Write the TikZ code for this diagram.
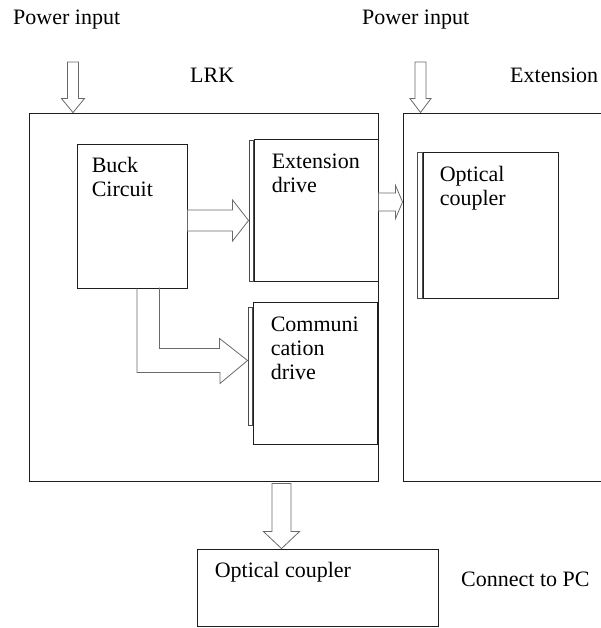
\documentclass[tikz,border=0pt]{standalone}
\usepackage{fontspec}
\setmainfont{Liberation Serif}
\usepackage{xcolor}
\definecolor{boxline}{HTML}{1E1E1E}
\definecolor{arrline}{HTML}{6A6A6A}
\definecolor{backgray}{HTML}{4A4A4A}
\usetikzlibrary{positioning, calc}
\tikzset{
  blk/.style ={rectangle, draw=boxline, line width=0.9pt, fill=white, inner sep=0pt},
  blktxt/.style={align=left, inner sep=0pt, text=black, font=\fontsize{22}{24}\selectfont},
  lbl/.style ={anchor=base west, inner sep=0pt, text=black, font=\fontsize{22}{24}\selectfont},
  behind/.style={draw=backgray, line width=0.7pt},
  arrow shaft/.store in=\arrshaft, arrow head/.store in=\arrhead, arrow len/.store in=\arrlen,
  arrow shaft=5pt, arrow head=10pt, arrow len=14pt,
  hollow/.style={draw=arrline, line width=0.8pt, fill=white, line join=miter,
    to path={let \p1=($(\tikztotarget)!\arrlen!(\tikztostart)$) in
      ($(\tikztostart)!\arrshaft!90:(\tikztotarget)$) -- ($(\p1)!\arrshaft!90:(\tikztotarget)$)
      -- ($(\p1)!\arrhead!90:(\tikztotarget)$) -- (\tikztotarget)
      -- ($(\p1)!\arrhead!-90:(\tikztotarget)$) -- ($(\p1)!\arrshaft!-90:(\tikztotarget)$)
      -- ($(\tikztostart)!\arrshaft!-90:(\tikztotarget)$) -- cycle}},
  hollowbend/.style={draw=arrline, line width=0.8pt, line join=miter},
}

\begin{document}
\begin{tikzpicture}[x=1pt, y=-1pt]
  \useasboundingbox (0,0) rectangle (601,628);
  \clip (0,0) rectangle (601,628);
  % outer blocks
  \node[blk, minimum width=349pt, minimum height=368pt] (lrk) at (203.5,297) {};
  \node[blk, minimum width=217pt, minimum height=368pt] (ext) at (511.5,297) {};
  \node[lbl] (lrklbl) at (190,83) {LRK};
  \node[lbl] (extlbl) at (510,83) {Extension};
  \node[lbl] (pinA) at (13,25) {Power input};
  \node[lbl] (pinB) at (362,25) {Power input};
  % inner blocks
  \node[blk, minimum width=110pt, minimum height=144pt] (buck) at (132,216) {};
  \node[blk, minimum width=124pt, minimum height=142pt] (extdrv) at (316,210) {};
  \node[blk, minimum width=124pt, minimum height=142pt] (commdrv) at (315,373) {};
  \node[blk, minimum width=135pt, minimum height=146pt] (optext) at (490.5,225) {};
  \node[blk, minimum width=241pt, minimum height=77pt] (optpc) at (317.5,587.5) {};
  \draw[behind] ([xshift=-4pt,yshift=-2pt]extdrv.north west) rectangle (extdrv.south west);
  \draw[behind] ([xshift=-4pt,yshift=-6pt]commdrv.north west) rectangle ([yshift=19pt]commdrv.south west);
  \draw[behind] ([xshift=-5pt,yshift=-1pt]optext.north west) rectangle (optext.south west);
  \node[blktxt, below right=13pt and 15pt of buck.north west] (bucktxt) {Buck\\Circuit};
  \node[blktxt, below right=15pt and 18pt of extdrv.north west] (extdrvtxt) {Extension\\drive};
  \node[blktxt, below right=15pt and 18pt of commdrv.north west] (commtxt) {Communi\\cation\\drive};
  \node[blktxt, below right=14pt and 17pt of optext.north west] (opttxt) {Optical\\coupler};
  \node[blktxt, below right=13pt and 18pt of optpc.north west] (pctxt) {Optical coupler};
  \node[lbl] (pclbl) at (461,586) {Connect to PC};
  % hollow arrows
  \coordinate (inA) at (73,62);
  \coordinate (inB) at (420.5,62);
  \coordinate (cdtip) at ([xshift=-5pt,yshift=12.5pt]commdrv.west);
  \draw[hollow, arrow shaft=5.5pt, arrow head=11.5pt, arrow len=14pt] (inA) to (inA |- lrk.north);
  \draw[hollow, arrow shaft=5.5pt, arrow head=10.5pt, arrow len=14pt] (inB) to (inB |- ext.north);
  \draw[hollow, arrow shaft=10.5pt, arrow head=20.5pt, arrow len=16pt] ([yshift=-4.5pt]buck.east) to ([xshift=-5pt,yshift=-10.5pt]extdrv.west);
  \draw[hollow, arrow shaft=9pt, arrow head=16.5pt, arrow len=7pt] ([yshift=8pt]extdrv.east) to ([yshift=8pt]extdrv.east -| ext.west);
  \draw[hollow, arrow shaft=9.5pt, arrow head=18pt, arrow len=17pt] ([xshift=78pt,yshift=-2pt]lrk.south) to ([xshift=78pt]lrk.south |- optpc.north);
  \draw[hollowbend] ([xshift=5pt]buck.south) -- ++(0,84) -- ++(83,0) -- ++(0,11) -- (cdtip) -- ++(-28,-22) -- ++(0,10) -- ++(-60,0) -- ++(0,-61);
\end{tikzpicture}
\end{document}
